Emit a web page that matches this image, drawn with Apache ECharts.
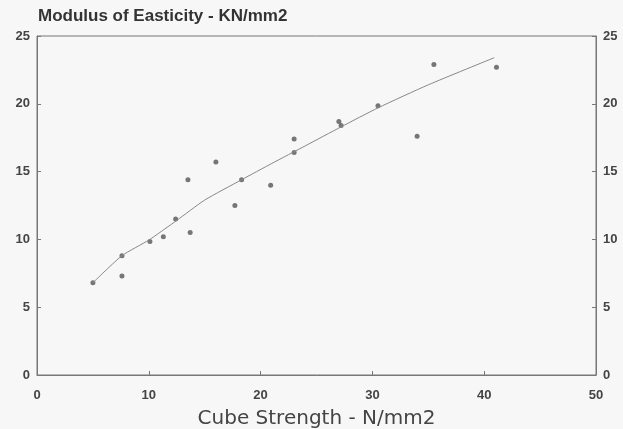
<!DOCTYPE html>
<html>
<head>
<meta charset="utf-8">
<script src="https://cdn.jsdelivr.net/npm/echarts@6/dist/echarts.min.js"></script>
<style>
html, body { margin: 0; padding: 0; background: #f7f7f7; }
#chart { width: 623px; height: 429px; }
</style>
</head>
<body>
<div id="chart"></div>
<script>
// measured points
var strength = [5, 7.6, 7.6, 10.1, 11.3, 12.4, 13.5, 13.7, 16.0, 17.7, 18.3, 20.9, 23.0, 23.0, 27.0, 27.2, 30.5, 34.0, 35.5, 41.1];
var modulus = [6.8, 8.8, 7.3, 9.85, 10.2, 11.5, 14.4, 10.5, 15.7, 12.5, 14.4, 14.0, 17.4, 16.4, 18.7, 18.4, 19.85, 17.6, 22.9, 22.7];
// fitted curve
var fitX = [5, 7.6, 10, 12.5, 15, 18.3, 21, 24, 27.2, 30.5, 35, 40.9];
var fitY = [6.8, 8.8, 9.95, 11.4, 12.9, 14.4, 15.6, 16.9, 18.3, 19.7, 21.4, 23.4];

var pts = strength.map(function (x, i) { return [x, modulus[i]]; });
var fit = fitX.map(function (x, i) { return [x, fitY[i]]; });

var labelStyle = { color: '#444', fontSize: 13, fontWeight: 'bold', fontFamily: 'Liberation Sans' };

var myChart = echarts.init(document.getElementById('chart'));
var option = {
    backgroundColor: '#f7f7f7',
    animation: false,
    title: {
        text: 'Modulus of Easticity - KN/mm2',
        left: 33, top: 3,
        textStyle: { color: '#333', fontSize: 17, fontWeight: 'bold', fontFamily: 'Liberation Sans' }
    },
    grid: {
        left: 37, right: 27, top: 36, bottom: 54,
        outerBoundsMode: 'none', containLabel: false,
        show: true, borderColor: '#777', borderWidth: 1
    },
    xAxis: {
        type: 'value', min: 0, max: 50, interval: 10,
        name: 'Cube Strength - N/mm2',
        nameLocation: 'middle', nameGap: 34,
        nameTextStyle: { color: '#444', fontSize: 20, fontFamily: 'DejaVu Sans' },
        axisLine: { lineStyle: { color: '#777' } },
        axisTick: { inside: true, length: 4, lineStyle: { color: '#777' } },
        axisLabel: Object.assign({ margin: 14 }, labelStyle),
        splitLine: { show: false }
    },
    yAxis: [{
        type: 'value', min: 0, max: 25, interval: 5, position: 'left',
        axisLine: { show: true, lineStyle: { color: '#777' } },
        axisTick: { show: true, inside: true, length: 4, lineStyle: { color: '#777' } },
        axisLabel: Object.assign({ margin: 7 }, labelStyle),
        splitLine: { show: false }
    }, {
        type: 'value', min: 0, max: 25, interval: 5, position: 'right',
        axisLine: { show: true, lineStyle: { color: '#777' } },
        axisTick: { show: true, inside: true, length: 4, lineStyle: { color: '#777' } },
        axisLabel: Object.assign({ margin: 7 }, labelStyle),
        splitLine: { show: false }
    }],
    series: [{
        type: 'line',
        data: fit,
        smooth: 0.2,
        showSymbol: false,
        lineStyle: { color: '#888', width: 1 }
    }, {
        type: 'scatter',
        data: pts,
        symbol: 'circle',
        symbolSize: 5,
        itemStyle: { color: '#555' }
    }]
};
myChart.setOption(option);
</script>
</body>
</html>
